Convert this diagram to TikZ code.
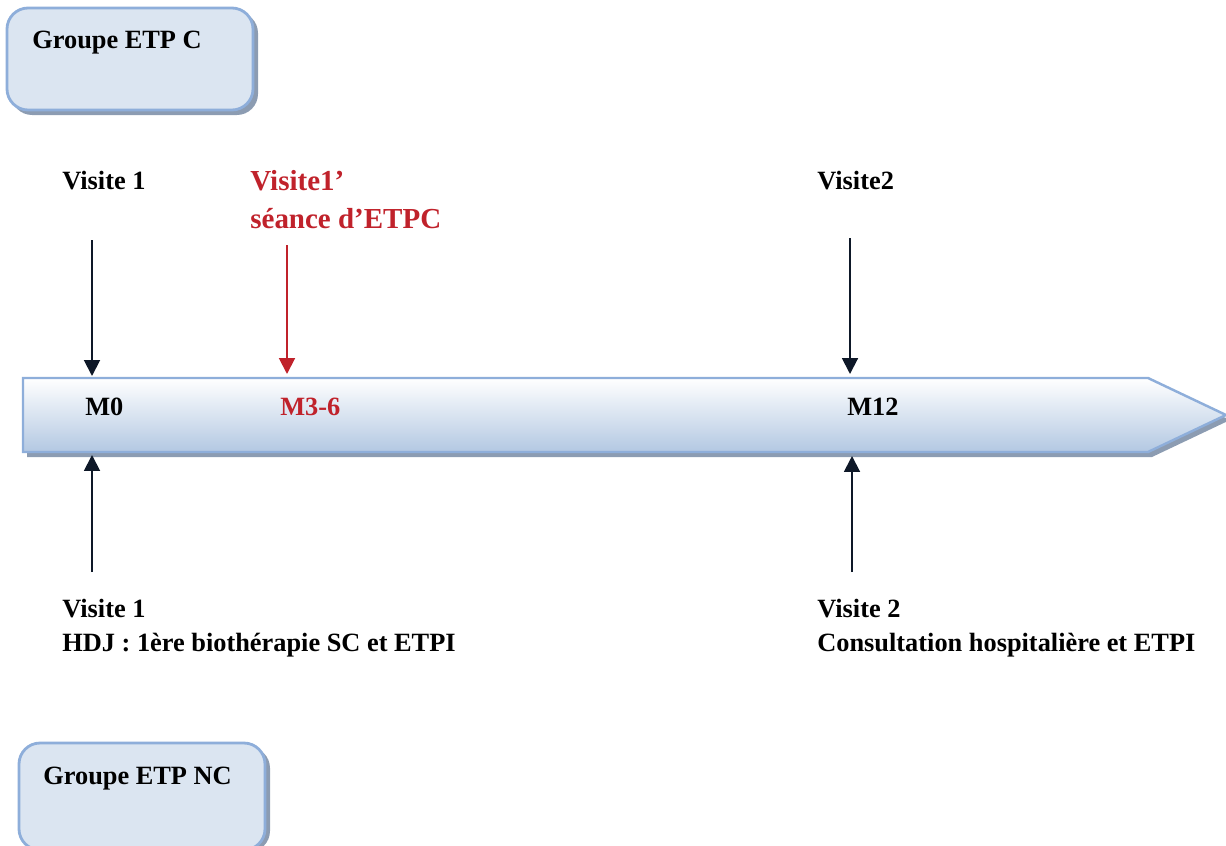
\documentclass[tikz,border=0pt]{standalone}
\usepackage{fontspec}
\setmainfont{Liberation Serif}
\usetikzlibrary{arrows.meta}
\definecolor{boxfill}{HTML}{DBE5F1}
\definecolor{boxline}{HTML}{8EAEDA}
\definecolor{boxshadow}{HTML}{8C9CB2}
\definecolor{bandlow}{HTML}{B3C8E2}
\definecolor{darkred}{HTML}{C0222B}
\definecolor{navy}{HTML}{0E1828}
\begin{document}
\begin{tikzpicture}[x=0.02cm,y=-0.02cm]
			\tikzset{lbl/.style={anchor=base west, inner sep=0, font=\fontsize{15}{18}\selectfont\bfseries},
				lblrouge/.style={lbl, text=darkred, font=\fontsize{16.5}{19}\selectfont\bfseries},
				groupe/.style={rounded corners=12, fill=boxfill, draw=boxline, line width=1.6pt},
				ombre/.style={rounded corners=12, fill=boxshadow},
				fl/.style={-{Triangle[length=9pt,width=9pt]}, line width=1.1pt, draw=navy},
				flrouge/.style={fl, draw=darkred}}
			\clip (0,0) rectangle (1226,845);

			% Groupe boxes
			\fill[ombre] (11,12) rectangle (258,115);
			\draw[groupe] (7,8) rectangle (253,110);
			\fill[ombre] (23,747) rectangle (270,852);
			\draw[groupe] (19,743) rectangle (265,850);
			\node[lbl] at (32,48) (gc) {Groupe ETP C};
			\node[lbl] at (43,784) (gnc) {Groupe ETP NC};

			% Time band
			\fill[boxshadow] (27,383) -- (1152,383) -- (1230,420) -- (1152,457) -- (27,457) -- cycle;
			\shade[top color=white, bottom color=bandlow, draw=boxline, line width=1.4pt]
				(23,378) -- (1148,378) -- (1226,415) -- (1148,452) -- (23,452) -- cycle;
			\node[lbl] at (85,415) (m0) {M0};
			\node[lbl, text=darkred] at (280,415) (m36) {M3-6};
			\node[lbl] at (847,415) (m12) {M12};

			% Labels above
			\node[lbl] at (62,189) (v1) {Visite 1};
			\node[lblrouge] at (250,190) (v1b) {Visite1’};
			\node[lblrouge] at (250,228) (seance) {séance d’ETPC};
			\node[lbl] at (817,189) (v2) {Visite2};

			% Labels below
			\node[lbl] at (62,617) (bv1) {Visite 1};
			\node[lbl] at (62,651) (hdj) {HDJ : 1ère biothérapie SC et ETPI};
			\node[lbl] at (817,617) (bv2) {Visite 2};
			\node[lbl] at (817,651) (consult) {Consultation hospitalière et ETPI};

			% Arrow ends
			\coordinate (a1) at (92,240);
			\coordinate (b1) at (92,376);
			\coordinate (a2) at (287,245);
			\coordinate (b2) at (287,374);
			\coordinate (a3) at (850,238);
			\coordinate (b3) at (850,374);
			\coordinate (c1) at (92,572);
			\coordinate (d1) at (92,455);
			\coordinate (c2) at (852,572);
			\coordinate (d2) at (852,456);

			\draw[fl] (a1) -- (b1);
			\draw[flrouge] (a2) -- (b2);
			\draw[fl] (a3) -- (b3);
			\draw[fl] (c1) -- (d1);
			\draw[fl] (c2) -- (d2);
		\end{tikzpicture}
\end{document}
